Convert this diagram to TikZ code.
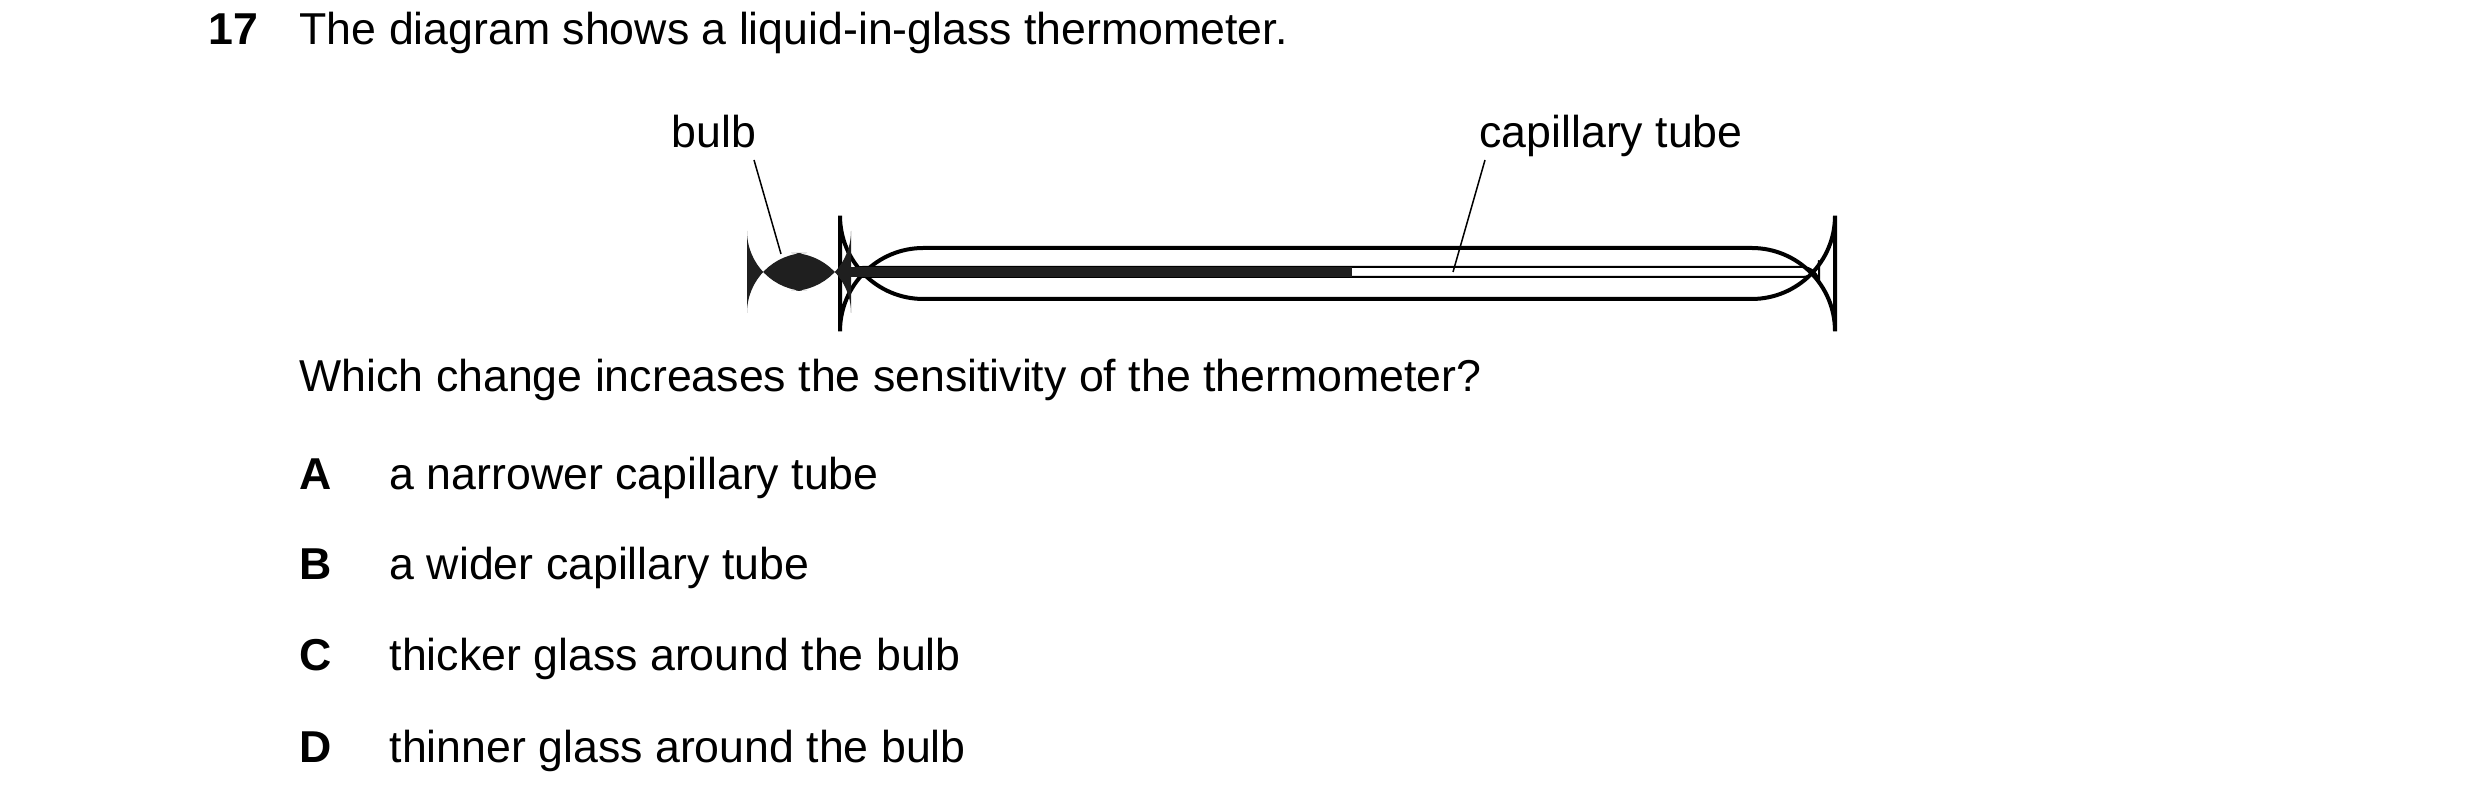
\documentclass[tikz,border=0pt]{standalone}
\usepackage{fontspec}
\setmainfont{Liberation Sans}
\begin{document}
\begin{tikzpicture}[x=0.3pt,y=-0.3pt,
  txt/.style={inner sep=0pt,anchor=base west,font=\fontsize{13.4}{16}\selectfont},
  lbl/.style={inner sep=0pt,anchor=base,font=\fontsize{13.4}{16}\selectfont},
  lead/.style={line width=0.45pt}]
\useasboundingbox (0,0) rectangle (2480,810);
\node[txt,font=\fontsize{13.4}{16}\selectfont\bfseries] (num) at (208,45) {17};
\node[txt] (title) at (299,45) {The diagram shows a liquid-in-glass thermometer.};
\node[lbl] (lbulb) at (714,148) {bulb};
\node[lbl] (lcap) at (1611,148) {capillary tube};
% tube
\draw[line width=1.2pt,rounded corners=25] (840,248) rectangle (1835,299);
\draw[line width=0.6pt,rounded corners=5] (846,267) rectangle (1819,277);
\fill[black!88] (846,267) rectangle (1352,277);
\fill[black!88,rounded corners=18] (747,253) rectangle (851,291);
\coordinate (bulbpt) at (781,254);
\coordinate (cappt) at (1453,272);
\draw[lead] (754,160) -- (bulbpt);
\draw[lead] (1485,160) -- (cappt);
\node[txt] (q) at (299,392) {Which change increases the sensitivity of the thermometer?};
\node[txt,font=\fontsize{13.4}{16}\selectfont\bfseries] (A) at (299,490) {A};
\node[txt] (a) at (389,490) {a narrower capillary tube};
\node[txt,font=\fontsize{13.4}{16}\selectfont\bfseries] (B) at (299,580) {B};
\node[txt] (b) at (389,580) {a wider capillary tube};
\node[txt,font=\fontsize{13.4}{16}\selectfont\bfseries] (C) at (299,671) {C};
\node[txt] (c) at (389,671) {thicker glass around the bulb};
\node[txt,font=\fontsize{13.4}{16}\selectfont\bfseries] (D) at (299,763) {D};
\node[txt] (d) at (389,763) {thinner glass around the bulb};
\end{tikzpicture}
\end{document}
